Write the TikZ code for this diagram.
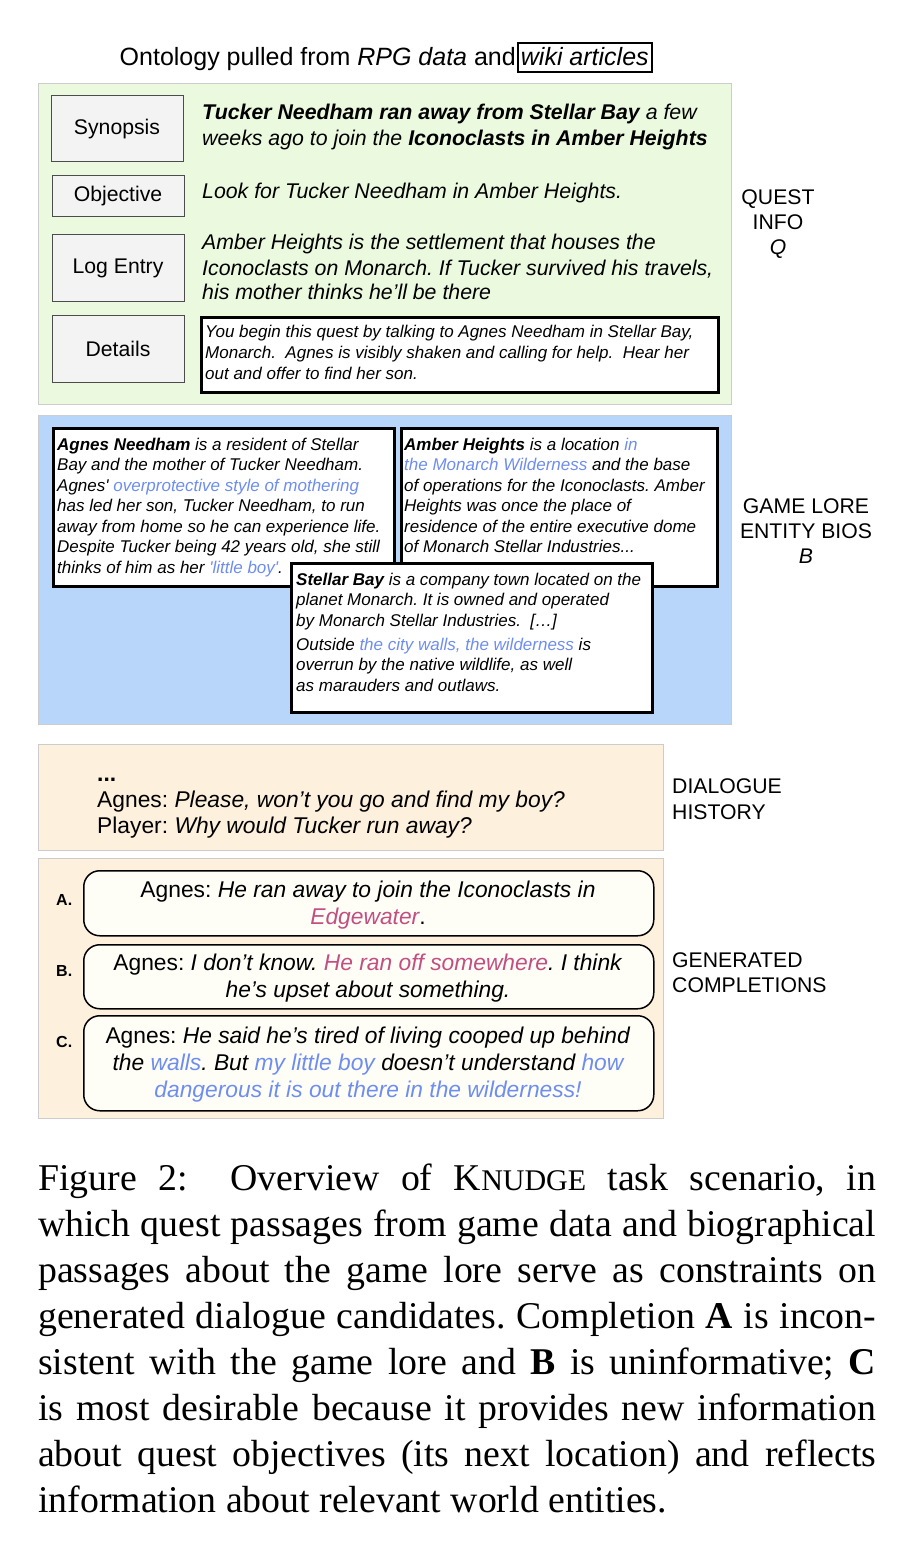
\documentclass[tikz,border=0pt]{standalone}
\usepackage{fontspec}
\setmainfont{Liberation Sans}
\newfontfamily\capfont{Liberation Serif}
\definecolor{qgreen}{HTML}{EBF9DF}
\definecolor{lblue}{HTML}{B8D5FA}
\definecolor{beige}{HTML}{FDF0DC}
\definecolor{graybox}{HTML}{F3F3F3}
\definecolor{compfill}{HTML}{FEFEF7}
\definecolor{txtblue}{HTML}{6E8DF0}
\definecolor{txtpink}{HTML}{C24F81}
\newcommand\fsz[2]{\fontsize{#1}{#2}\selectfont}
\newcommand\bl[1]{\textcolor{txtblue}{#1}}
\newcommand\pk[1]{\textcolor{txtpink}{#1}}
\newcommand\nsp{\spaceskip=0.278em\relax}
\newcommand\capline[1]{\makebox[838pt][s]{\spaceskip=0.25em plus 1em minus 0.06em\relax #1}}
\frenchspacing
\tikzset{
  panel/.style={draw=black!20, line width=0.8, anchor=north west, inner sep=0},
  lbox/.style={draw=black!70, fill=graybox, line width=1, font=\fsz{21.2}{25}, inner sep=0},
  txt/.style={anchor=base west, inner sep=0, align=left},
  ctxt/.style={anchor=base, inner sep=0, align=center},
  biobox/.style={draw=black, line width=3, fill=white, anchor=north west, inner sep=0},
  compbox/.style={draw=black, line width=1.5, rounded corners=16, fill=compfill, anchor=north west, inner sep=0},
  side/.style={inner sep=0, font=\fsz{21.2}{25}},
}
\begin{document}
\begin{tikzpicture}[x=1pt,y=-1pt]
\useasboundingbox (0,0) rectangle (916,1562);
\fill[white] (0,0) rectangle (916,1562);

% title
\node[anchor=base east, inner sep=0, font=\fsz{25}{28}] (title) at (516,66) {\nsp Ontology pulled from \textit{RPG data} and};
\node[draw=black, line width=1.8, anchor=base west, inner xsep=3, inner ysep=0, text height=23, text depth=6, font=\fsz{25}{28}] (wiki) at ([xshift=1]title.base east) {\nsp\textit{wiki articles}};

% quest panel
\node[panel, fill=qgreen, minimum width=693, minimum height=321] (quest) at (38,83) {};
\node[lbox, minimum width=132, minimum height=66] (syn) at (117,129) {Synopsis};
\node[lbox, minimum width=132, minimum height=41] (obj) at (118,196.5) {Objective};
\node[lbox, minimum width=132, minimum height=66] (log) at (118,268) {\nsp Log Entry};
\node[lbox, minimum width=132, minimum height=67] (det) at (118,348.5) {Details};

\node[txt, text width=525, font=\fsz{21.3}{26}\itshape] (syntext) at (202,120)
  {\nsp\textbf{Tucker Needham ran away from Stellar Bay} a few\\ weeks ago to join the \textbf{Iconoclasts in Amber Heights}};
\node[txt, text width=525, font=\fsz{21.3}{25}\itshape] (objtext) at (202,199)
  {\nsp Look for Tucker Needham in Amber Heights.};
\node[txt, text width=525, font=\fsz{21.3}{25}\itshape] (logtext) at (202,250)
  {\nsp Amber Heights is the settlement that houses the\\ Iconoclasts on Monarch. If Tucker survived his travels,\\ his mother thinks he’ll be there};
\node[biobox, minimum width=517, minimum height=75] (detbox) at (200,316) {};
\node[txt, text width=510, font=\fsz{17}{21}\itshape] (dettext) at (205,337)
  {\nsp You begin this quest by talking to Agnes Needham in Stellar Bay,\\ Monarch.\ \ Agnes is visibly shaken and calling for help.\ \ Hear her\\ out and offer to find her son.};

\node[side, ctxt, text width=150] (qlabel) at (778,205) {QUEST\\ INFO\\ \textit{Q}};

% lore panel
\node[panel, fill=lblue, minimum width=693, minimum height=309] (lore) at (38,415) {};
\node[biobox, minimum width=341, minimum height=158] (agnes) at (52,427) {};
\node[txt, text width=335, font=\fsz{17}{20.5}\itshape] (agnestext) at (57,450)
  {\nsp\textbf{Agnes Needham} is a resident of Stellar\\ Bay and the mother of Tucker Needham.\\ Agnes\textquotesingle{} \bl{overprotective style of mothering}\\ has led her son, Tucker Needham, to run\\ away from home so he can experience life.\\ Despite Tucker being 42 years old, she still\\ thinks of him as her \bl{\textquotesingle little boy\textquotesingle}.};
\node[biobox, minimum width=316, minimum height=158] (amber) at (400,427) {};
\node[txt, text width=312, font=\fsz{17}{20.5}\itshape] (ambertext) at (404,450)
  {\nsp\textbf{Amber Heights} is a location \bl{in}\\ \bl{the Monarch Wilderness} and the base\\ of operations for the Iconoclasts. Amber\\ Heights was once the place of\\ residence of the entire executive dome\\ of Monarch Stellar Industries...};
\node[biobox, minimum width=361, minimum height=149] (stellar) at (290,562) {};
\node[txt, text width=355, font=\fsz{17}{20.5}\itshape] (stellartext) at (296,585)
  {\nsp\textbf{Stellar Bay} is a company town located on the\\ planet Monarch. It is owned and operated\\ by Monarch Stellar Industries.\ \ […]\\[3.5pt] Outside \bl{the city walls, the wilderness} is\\ overrun by the native wildlife, as well\\ as marauders and outlaws.};

\node[side, ctxt, text width=170] (blabel) at (806,513) {\nsp GAME LORE\\ ENTITY BIOS\\ \textit{B}};

% dialogue history
\node[panel, fill=beige, minimum width=625, minimum height=106] (hist) at (38,744) {};
\node[txt, text width=560, font=\fsz{22.8}{26}] (histtext) at (97,781)
  {\nsp\textbf{...}\\ Agnes: \textit{Please, won’t you go and find my boy?}\\ Player: \textit{Why would Tucker run away?}};
\node[side, txt, text width=200, font=\fsz{21.2}{26}] (hlabel) at (672,793) {DIALOGUE\\ HISTORY};

% completions
\node[panel, fill=beige, minimum width=625, minimum height=260] (comp) at (38,858) {};
\node[compbox, minimum width=570, minimum height=65] (ca) at (83,870) {};
\node[compbox, minimum width=570, minimum height=64] (cb) at (83,944) {};
\node[compbox, minimum width=570, minimum height=95] (cc) at (83,1015) {};
\node[ctxt, text width=565, font=\fsz{22.8}{27}] (catext) at (368,897)
  {\nsp Agnes: \textit{He ran away to join the Iconoclasts in}\\ \textit{\pk{Edgewater}}.};
\node[ctxt, text width=565, font=\fsz{22.8}{27}] (cbtext) at (368,970)
  {\nsp Agnes: \textit{I don’t know. \pk{He ran off somewhere}. I think}\\ \textit{he’s upset about something.}};
\node[ctxt, text width=565, font=\fsz{22.8}{27}] (cctext) at (368,1043)
  {\nsp Agnes: \textit{He said he’s tired of living cooped up behind}\\ \textit{the \bl{walls}. But \bl{my little boy} doesn’t understand \bl{how}}\\ \textit{\bl{dangerous it is out there in the wilderness!}}};
\node[txt, font=\fsz{16}{20}\bfseries] (la) at (56,905) {A.};
\node[txt, font=\fsz{16}{20}\bfseries] (lb) at (56,976) {B.};
\node[txt, font=\fsz{16}{20}\bfseries] (lc) at (56,1047) {C.};
\node[side, txt, text width=240, font=\fsz{21.2}{25}] (glabel) at (672,967) {GENERATED\\ COMPLETIONS};

% caption
\node[txt, text width=838, font=\capfont\fsz{37.8}{46}] (caption) at (38,1190)
  {\capline{Figure 2:\ \ Overview of K{\fsz{30}{46}NUDGE} task scenario, in}\\
   \capline{which quest passages from game data and biographical}\\
   \capline{passages about the game lore serve as constraints on}\\
   \capline{generated dialogue candidates. Completion \textbf{A} is incon-}\\
   \capline{sistent with the game lore and \textbf{B} is uninformative; \textbf{C}}\\
   \capline{is most desirable because it provides new information}\\
   \capline{about quest objectives (its next location) and reflects}\\
   {\spaceskip=0.25em\relax information about relevant world entities.}};
\end{tikzpicture}
\end{document}
